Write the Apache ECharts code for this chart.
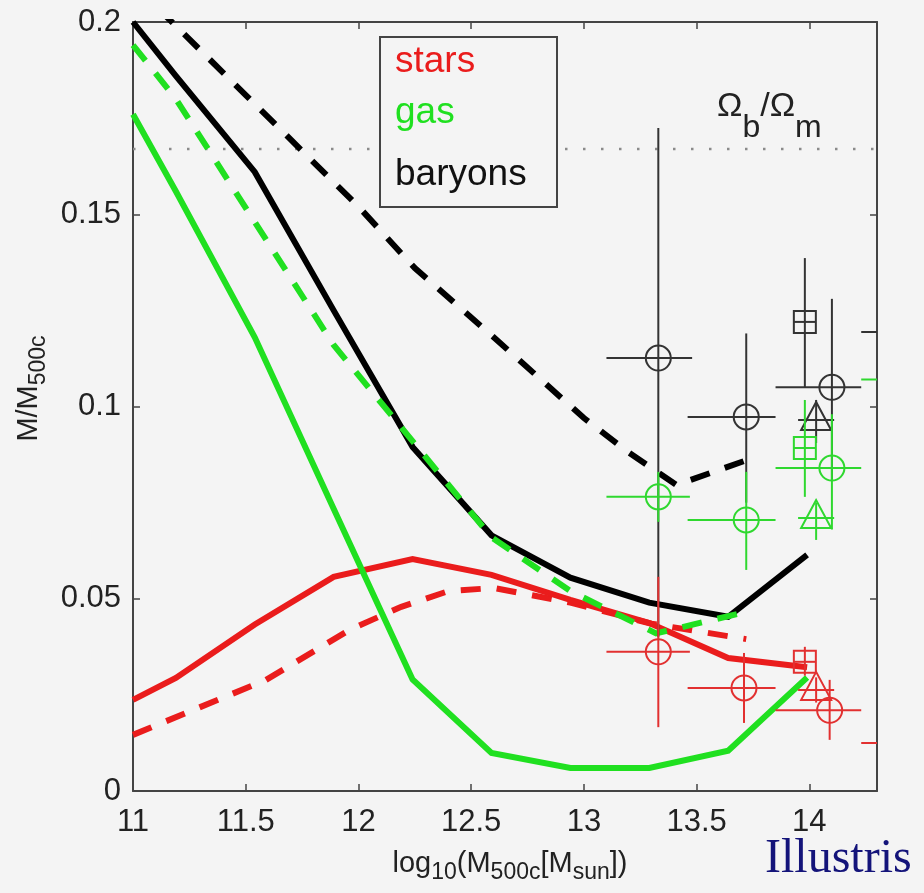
<!DOCTYPE html>
<html><head><meta charset="utf-8">
<script src="https://cdn.jsdelivr.net/npm/echarts@6/dist/echarts.min.js"></script>
<style>html,body{margin:0;padding:0;background:#f4f4f4}#c{width:924px;height:893px}</style>
</head><body><div id="c"></div><script>
// ---- tick labels ----
const xTickLabels = [11, 11.5, 12, 12.5, 13, 13.5, 14];
const yTickLabels = [0, 0.05, 0.1, 0.15, 0.2];
const omegaRatio = 0.167;

// ---- simulation curves (log10 M500c -> fraction) ----
const gridX = [11.0, 11.19, 11.54, 11.89, 12.24, 12.59, 12.94, 13.29, 13.64, 13.99];
const starsSolid   = [0.0237, 0.0294, 0.0433, 0.0557, 0.0603, 0.0562, 0.0497, 0.0437, 0.0346, 0.0322];
const gasSolid     = [0.176, 0.156, 0.118, 0.0734, 0.029, 0.0099, 0.006, 0.006, 0.0105, 0.0295];
const baryonsSolid = [0.2, 0.186, 0.161, 0.125, 0.0895, 0.0665, 0.0555, 0.049, 0.0453, 0.0614];

const starsDashX = [11.0, 11.59, 11.96, 12.19, 12.4, 12.6, 12.94, 13.3, 13.72];
const starsDash  = [0.0146, 0.0289, 0.0419, 0.0479, 0.052, 0.0528, 0.049, 0.0435, 0.0395];
const gasDashX   = [11.0, 11.19, 11.54, 11.89, 12.24, 12.59, 12.94, 13.32, 13.72];
const gasDash    = [0.194, 0.180, 0.148, 0.116, 0.091, 0.066, 0.052, 0.041, 0.0466];
const baryDashX  = [11.0, 11.5, 12.0, 12.25, 12.6, 13.0, 13.2, 13.41, 13.72];
const baryDash   = [0.21, 0.181, 0.152, 0.136, 0.118, 0.097, 0.088, 0.0796, 0.086];

// ---- observations: [x, y, xLow, xHigh, yLow, yHigh] ----
const baryCircles   = [[13.33, 0.1126, 13.10, 13.48, 0.040, 0.1724], [13.72, 0.0973, 13.46, 13.85, 0.075, 0.119], [14.10, 0.105, 13.85, 14.23, 0.081, 0.128], [14.45, 0.1194, 14.23, 14.6, 0.1194, 0.1194]];
const barySquares   = [[13.98, 0.122, 13.98, 13.98, 0.105, 0.1386]];
const baryTriangles = [[14.03, 0.0965, 13.95, 14.11, 0.0905, 0.1017]];
const gasCircles    = [[13.33, 0.0765, 13.10, 13.47, 0.070, 0.083], [13.72, 0.0705, 13.46, 13.85, 0.0575, 0.083], [14.10, 0.084, 13.85, 14.23, 0.068, 0.098], [14.45, 0.107, 14.23, 14.6, 0.107, 0.107]];
const gasSquares    = [[13.98, 0.0892, 13.98, 13.98, 0.0765, 0.1017]];
const gasTriangles  = [[14.03, 0.071, 13.95, 14.11, 0.0653, 0.075]];
const starCircles   = [[13.33, 0.0362, 13.10, 13.47, 0.0166, 0.0557], [13.71, 0.0268, 13.46, 13.85, 0.0177, 0.0359], [14.09, 0.021, 13.85, 14.23, 0.0133, 0.0289], [14.45, 0.0125, 14.23, 14.6, 0.0125, 0.0125]];
const starSquares   = [[13.98, 0.0336, 13.98, 13.98, 0.030, 0.0375]];
const starTriangles = [[14.03, 0.0263, 13.95, 14.11, 0.023, 0.0295]];

const RED = '#ea1c1c', GREEN = '#20e020', BLACK = '#000000';
const RED_T = '#e23030', GREEN_T = '#2fd82f', BLACK_T = '#333333';
const FONT = 'Liberation Sans';

function zip(xs, ys) { return xs.map((x, i) => [x, ys[i]]); }

function lineSeries(name, xs, ys, color, dashed, z) {
  return {
    name, type: 'line', data: zip(xs, ys), showSymbol: false, symbol: 'none',
    z, clip: true, silent: true,
    lineStyle: { color, width: 6, type: dashed ? [20, 16] : 'solid', cap: 'butt', join: 'miter' }
  };
}

function obsSeries(data, shape, color) {
  return {
    type: 'custom', data, clip: true, z: 20, silent: true,
    renderItem: function (params, api) {
      const x = api.value(0), y = api.value(1);
      const c = api.coord([x, y]);
      const l = api.coord([api.value(2), y]);
      const r = api.coord([api.value(3), y]);
      const b = api.coord([x, api.value(4)]);
      const t = api.coord([x, api.value(5)]);
      const S = shape === 'rect' ? 11 : 12.5;
      const style = { stroke: color, lineWidth: 2, fill: null };
      const children = [
        { type: 'line', shape: { x1: Math.min(l[0], c[0] - S), y1: c[1], x2: Math.max(r[0], c[0] + S), y2: c[1] }, style },
        { type: 'line', shape: { x1: c[0], y1: Math.max(b[1], c[1] + S), x2: c[0], y2: Math.min(t[1], c[1] - S) }, style }
      ];
      if (shape === 'circle') children.push({ type: 'circle', shape: { cx: c[0], cy: c[1], r: S }, style });
      if (shape === 'rect') children.push({ type: 'rect', shape: { x: c[0] - S, y: c[1] - S, width: 2 * S, height: 2 * S }, style });
      if (shape === 'tri') children.push({ type: 'polygon', shape: { points: [[c[0], c[1] - 18], [c[0] - 15, c[1] + 10], [c[0] + 15, c[1] + 10]] }, style });
      return { type: 'group', children };
    }
  };
}

const axisLineStyle = { color: '#444', width: 2 };
const tickStyle = { color: '#444', width: 1.5 };
const isTick = (v, arr) => arr.some(a => Math.abs(a - v) < 1e-9);

const chart = echarts.init(document.getElementById('c'), null, { renderer: 'canvas' });
chart.setOption({
  backgroundColor: '#f4f4f4',
  animation: false,
  grid: { left: 133, right: 47, top: 22, bottom: 102, containLabel: false, outerBoundsMode: 'none' },
  xAxis: [
    {
      type: 'value', min: 11, max: 14.3, interval: 0.5, position: 'bottom',
      axisLine: { show: true, onZero: false, lineStyle: axisLineStyle },
      axisTick: { show: true, inside: true, length: 7, lineStyle: tickStyle },
      splitLine: { show: false },
      axisLabel: { margin: 16, fontSize: 31, color: '#222', fontFamily: FONT, showMaxLabel: false,
        formatter: v => isTick(v, xTickLabels) ? String(v) : '' },
      name: 'log{s|10}(M{s|500c}[M{s|sun}])', nameLocation: 'middle', nameGap: 52,
      nameTextStyle: { fontSize: 29, color: '#222', fontFamily: FONT, padding: [0, 0, 0, 10],
        rich: { s: { fontSize: 23, fontFamily: FONT, color: '#222', padding: [18, 0, 0, 0] } } }
    },
    {
      type: 'value', min: 11, max: 14.3, interval: 0.5, position: 'top',
      axisLine: { show: true, onZero: false, lineStyle: axisLineStyle },
      axisTick: { show: true, inside: true, length: 7, lineStyle: tickStyle },
      splitLine: { show: false }, axisLabel: { show: false }
    }
  ],
  yAxis: [
    {
      type: 'value', min: 0, max: 0.2, interval: 0.05, position: 'left',
      axisLine: { show: true, onZero: false, lineStyle: axisLineStyle },
      axisTick: { show: true, inside: true, length: 7, lineStyle: tickStyle },
      splitLine: { show: false },
      axisLabel: { margin: 12, fontSize: 31, color: '#222', fontFamily: FONT,
        formatter: v => isTick(v, yTickLabels) ? String(+v.toFixed(3)) : '' },
      name: 'M/M{s|500c}', nameLocation: 'middle', nameRotate: 90, nameGap: 82,
      nameTextStyle: { fontSize: 29, color: '#222', fontFamily: FONT, padding: [0, 0, 0, 36],
        rich: { s: { fontSize: 23, fontFamily: FONT, color: '#222', padding: [18, 0, 0, 0] } } }
    },
    {
      type: 'value', min: 0, max: 0.2, interval: 0.05, position: 'right',
      axisLine: { show: true, onZero: false, lineStyle: axisLineStyle },
      axisTick: { show: true, inside: true, length: 7, lineStyle: tickStyle },
      splitLine: { show: false }, axisLabel: { show: false }
    }
  ],
  series: [
    { type: 'line', data: [[11, omegaRatio], [14.3, omegaRatio]], showSymbol: false, symbol: 'none', z: 1, silent: true,
      lineStyle: { color: '#8a8a8a', width: 2.5, type: [2.5, 15.5] } },
    lineSeries('stars (dashed)', starsDashX, starsDash, RED, true, 3),
    lineSeries('stars', gridX, starsSolid, RED, false, 4),
    lineSeries('baryons (dashed)', baryDashX, baryDash, BLACK, true, 5),
    lineSeries('baryons', gridX, baryonsSolid, BLACK, false, 6),
    lineSeries('gas', gridX, gasSolid, GREEN, false, 7),
    lineSeries('gas (dashed)', gasDashX, gasDash, GREEN, true, 8),
    obsSeries(baryCircles, 'circle', BLACK_T),
    obsSeries(barySquares, 'rect', BLACK_T),
    obsSeries(baryTriangles, 'tri', BLACK_T),
    obsSeries(gasCircles, 'circle', GREEN_T),
    obsSeries(gasSquares, 'rect', GREEN_T),
    obsSeries(gasTriangles, 'tri', GREEN_T),
    obsSeries(starCircles, 'circle', RED_T),
    obsSeries(starSquares, 'rect', RED_T),
    obsSeries(starTriangles, 'tri', RED_T)
  ],
  graphic: [
    { type: 'rect', z: 100, shape: { x: 380, y: 37, width: 177, height: 170 },
      style: { fill: '#f4f4f4', stroke: '#444', lineWidth: 2 } },
    { type: 'text', z: 101, x: 395, y: 80, style: { text: 'stars', fill: RED, font: '37px "Liberation Sans"', verticalAlign: 'bottom' } },
    { type: 'text', z: 101, x: 395, y: 131, style: { text: 'gas', fill: GREEN, font: '37px "Liberation Sans"', verticalAlign: 'bottom' } },
    { type: 'text', z: 101, x: 395, y: 193, style: { text: 'baryons', fill: '#111', font: '37px "Liberation Sans"', verticalAlign: 'bottom' } },
    { type: 'text', z: 101, x: 717, y: 70, style: {
        text: '{a|Ω}{b|b}{a|/Ω}{b|m}', fill: '#222',
        rich: { a: { fontSize: 34, fontFamily: FONT, fill: '#222' }, b: { fontSize: 32, fontFamily: FONT, fill: '#222', padding: [42, 0, 0, 0] } } } },
    { type: 'text', z: 101, x: 765, y: 835, style: { text: 'Illustris', fill: '#14147a', font: '48px "Liberation Serif"' } }
  ]
});
</script></body></html>
